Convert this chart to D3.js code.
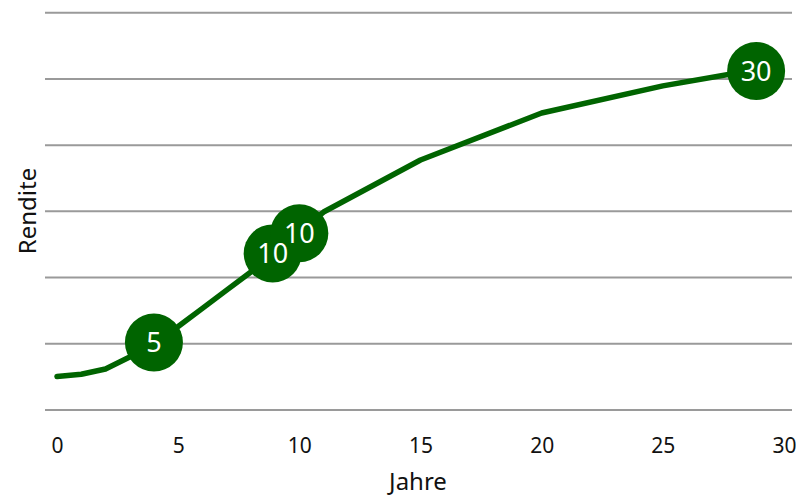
<!DOCTYPE html>
<html>
<head>
<meta charset="utf-8">
<script src="https://cdn.jsdelivr.net/npm/d3@7"></script>
<style>
  body { margin: 0; background: #fff; }
  svg { display: block; font-family: "Noto Sans", sans-serif; }
</style>
</head>
<body>
<div id="chart"></div>
<script>
// Years and return values
const years   = [0, 1, 2, 3, 4, 5, 6, 7, 8, 9, 10, 11, 15, 20, 25, 29];
const rendite = [10.1, 10.8, 12.4, 16.0, 20.4, 25.2, 30.7, 36.2, 41.7, 47.7, 53.8, 59.8, 75.5, 89.7, 97.9, 103.0];

// Marker circles on the curve
const markerYears  = [4, 8.9, 10, 28.85];
const markerValues = [20.4, 47.3, 53.4, 102.4];
const markerLabels = ['5', '10', '10', '30'];

const xTicks = [0, 5, 10, 15, 20, 25, 30];
const yTicks = [0, 20, 40, 60, 80, 100, 120];

const width = 796, height = 497;
const green = '#006400';

const svg = d3.select('#chart')
    .append('svg')
    .attr('width', width)
    .attr('height', height);

const x = d3.scaleLinear().domain([0, 30]).range([57, 784]);
const y = d3.scaleLinear().domain([0, 120]).range([410, 12.7]);

// Horizontal gridlines (no y tick labels)
svg.append('g')
    .selectAll('line')
    .data(yTicks)
    .enter()
    .append('line')
    .attr('x1', 45)
    .attr('x2', 792)
    .attr('y1', d => y(d))
    .attr('y2', d => y(d))
    .attr('stroke', '#9a9a9a')
    .attr('stroke-width', 2);

// x axis labels only
const xAxis = d3.axisBottom(x)
    .tickValues(xTicks)
    .tickSize(0)
    .tickPadding(0);

const gx = svg.append('g')
    .attr('transform', 'translate(0,453)')
    .call(xAxis);
gx.select('.domain').remove();
gx.selectAll('text')
    .attr('dy', 0)
    .attr('font-size', 21)
    .attr('font-family', '"Noto Sans", sans-serif')
    .attr('fill', '#111');

// Axis titles
svg.append('text')
    .attr('x', 418)
    .attr('y', 490)
    .attr('text-anchor', 'middle')
    .attr('font-size', 24)
    .attr('fill', '#111')
    .text('Jahre');

svg.append('text')
    .attr('transform', 'translate(36,211) rotate(-90)')
    .attr('text-anchor', 'middle')
    .attr('font-size', 24)
    .attr('fill', '#111')
    .text('Rendite');

// The return curve
const line = d3.line()
    .x(d => x(d[0]))
    .y(d => y(d[1]));

svg.append('path')
    .datum(d3.zip(years, rendite))
    .attr('d', line)
    .attr('fill', 'none')
    .attr('stroke', green)
    .attr('stroke-width', 5.5)
    .attr('stroke-linecap', 'round')
    .attr('stroke-linejoin', 'round');

// Markers: all circles first, then labels on top
const markers = markerYears.map((yr, i) => ({ yr: yr, v: markerValues[i], label: markerLabels[i] }));

svg.append('g')
    .selectAll('circle')
    .data(markers)
    .enter()
    .append('circle')
    .attr('cx', d => x(d.yr))
    .attr('cy', d => y(d.v))
    .attr('r', 29)
    .attr('fill', green);

svg.append('g')
    .selectAll('text')
    .data(markers)
    .enter()
    .append('text')
    .attr('x', d => x(d.yr))
    .attr('y', d => y(d.v))
    .attr('dy', '0.36em')
    .attr('text-anchor', 'middle')
    .attr('font-size', 27)
    .attr('fill', '#fff')
    .text(d => d.label);
</script>
</body>
</html>
